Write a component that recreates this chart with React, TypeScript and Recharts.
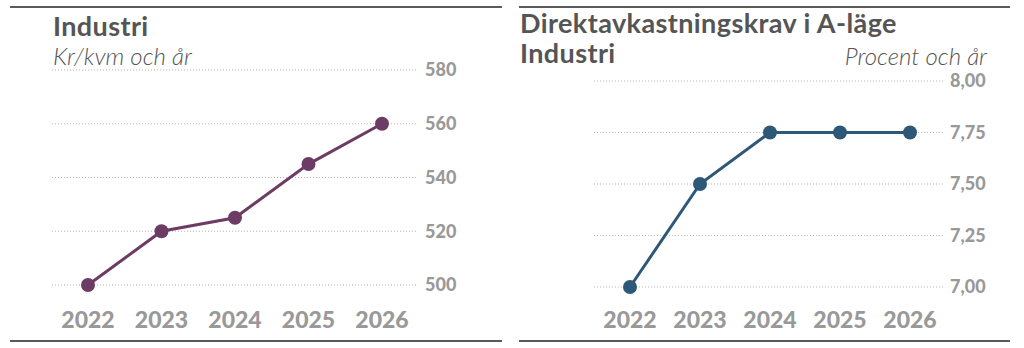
import React from "react";
import { LineChart, Line, XAxis, YAxis, CartesianGrid } from "recharts";

const years = ["2022", "2023", "2024", "2025", "2026"];
const rentValues = [500, 520, 525, 545, 560];
const yieldValues = [7.0, 7.5, 7.75, 7.75, 7.75];
const rentTicks = [500, 520, 540, 560, 580];
const yieldTicks = [7.0, 7.25, 7.5, 7.75, 8.0];

const rentData = years.map((y, i) => ({ year: y, v: rentValues[i] }));
const yieldData = years.map((y, i) => ({ year: y, v: yieldValues[i] }));

const FONT = "Lato, 'Open Sans', sans-serif";
const TICK_GRAY = "#999999";
const TITLE = "#555555";

const xTick = { fill: TICK_GRAY, fontSize: 23, fontWeight: 900, fontFamily: FONT };
const yTick = { fill: TICK_GRAY, fontSize: 18, fontWeight: 900, fontFamily: FONT };

const rule = (left: number, top: number, width: number): React.CSSProperties => ({
  position: "absolute",
  left,
  top,
  width,
  height: 2,
  background: "#5a5a5a",
});

export default function App() {
  return (
    <div style={{ position: "fixed", left: 0, top: 0, width: 1024, height: 348, background: "#fff", fontFamily: FONT }}>
      <div style={rule(10, 6, 492)} />
      <div style={rule(519, 6, 491)} />
      <div style={rule(10, 340, 492)} />
      <div style={rule(519, 340, 491)} />

      <div style={{ position: "absolute", left: 0, top: 0 }}>
        <LineChart width={512} height={348} data={rentData} margin={{ top: 70, right: 35, bottom: 3, left: 52 }}>
          <CartesianGrid vertical={false} stroke="#b5b5b5" strokeDasharray="1 2" />
          <XAxis
            dataKey="year"
            axisLine={false}
            tickLine={false}
            tickSize={0}
            tickMargin={27}
            height={60}
            padding={{ left: 36, right: 35 }}
            tick={xTick}
            interval={0}
          />
          <YAxis
            orientation="right"
            domain={[500, 580]}
            ticks={rentTicks}
            axisLine={false}
            tickLine={false}
            tickSize={0}
            tickMargin={8}
            width={60}
            tick={yTick}
          />
          <Line
            dataKey="v"
            stroke="#6d3c64"
            strokeWidth={3}
            dot={{ r: 7, fill: "#6d3c64", stroke: "none" }}
            isAnimationActive={false}
          />
        </LineChart>
      </div>

      <div style={{ position: "absolute", left: 512, top: 0 }}>
        <LineChart width={512} height={348} data={yieldData} margin={{ top: 81, right: 19, bottom: 1, left: 82 }}>
          <CartesianGrid vertical={false} stroke="#b5b5b5" strokeDasharray="1 2" />
          <XAxis
            dataKey="year"
            axisLine={false}
            tickLine={false}
            tickSize={0}
            tickMargin={25}
            height={60}
            padding={{ left: 36, right: 35 }}
            tick={xTick}
            interval={0}
          />
          <YAxis
            orientation="right"
            domain={[7, 8]}
            ticks={yieldTicks}
            axisLine={false}
            tickLine={false}
            tickSize={0}
            tickMargin={5}
            width={60}
            tick={yTick}
            tickFormatter={(v: number) => v.toFixed(2).replace(".", ",")}
          />
          <Line
            dataKey="v"
            stroke="#2e5878"
            strokeWidth={3}
            dot={{ r: 7, fill: "#2e5878", stroke: "none" }}
            isAnimationActive={false}
          />
        </LineChart>
      </div>

      <div style={{ position: "absolute", left: 53, top: 11, fontSize: 27, fontWeight: 700, color: TITLE, lineHeight: "30px", letterSpacing: 0.4 }}>
        Industri
      </div>
      <div style={{ position: "absolute", left: 53, top: 44, fontSize: 24, fontWeight: 300, fontStyle: "italic", color: "#555", lineHeight: "24px", whiteSpace: "nowrap" }}>
        Kr/kvm och år
      </div>

      <div style={{ position: "absolute", left: 520, top: 8, fontSize: 27, fontWeight: 700, color: TITLE, lineHeight: "30px", letterSpacing: 0.4, whiteSpace: "nowrap" }}>
        Direktavkastningskrav i A-läge
        <br />
        Industri
      </div>
      <div style={{ position: "absolute", right: 37, top: 44, fontSize: 24, fontWeight: 300, fontStyle: "italic", color: "#555", lineHeight: "24px", whiteSpace: "nowrap" }}>
        Procent och år
      </div>
    </div>
  );
}
